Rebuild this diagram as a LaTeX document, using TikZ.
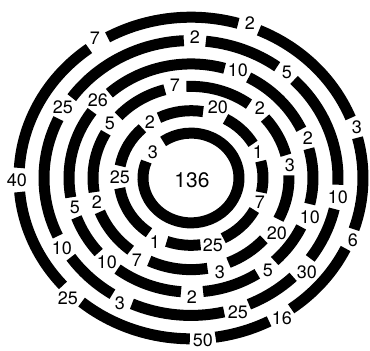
\documentclass[tikz,border=0pt]{standalone}
\usepackage{fontspec}
\setmainfont{TeX Gyre Heros}

\tikzset{
    ring/.style={line width=11pt},
    num/.style={font=\fontsize{18}{18}\selectfont, inner sep=0pt},
    total/.style={font=\fontsize{21}{21}\selectfont, inner sep=0pt},
}

\begin{document}
\begin{tikzpicture}[x=1pt,y=1pt]
                    \useasboundingbox (-191,-173) rectangle (179,178);

                    \foreach \r/\a/\b in {
                        172/21.9/66.7, 172/74.1/119.0, 172/126.4/176.4, 172/185.0/221.9,
                        172/230.5/269.6, 172/278.2/297.0, 172/305.6/334.0, 172/341.4/374.5,
                        147/-2.8/45.5, 147/54.1/84.2, 147/92.8/144.2, 147/154.4/205.0,
                        147/215.2/237.7, 147/246.3/283.0, 147/293.2/314.0, 147/324.2/347.0,
                        122/25.3/61.8, 122/74.0/132.0, 122/144.2/189.8, 122/200.2/220.8,
                        122/233.0/265.3, 122/275.7/302.9, 122/313.3/334.6, 122/346.8/374.9,
                        98/14.4/40.9, 98/53.7/92.7, 98/105.5/137.6, 98/150.4/188.9,
                        98/201.7/232.0, 98/244.8/279.7, 98/292.5/318.0, 98/333.2/361.6,
                        72/30.5/61.3, 72/80.3/116.4, 72/132.4/169.7, 72/188.7/234.3,
                        72/250.3/277.6, 72/296.6/331.6, 72/347.6/374.5,
                        48/158.5/485.5}
                        \draw[ring] ({\r*cos(\a)},{0.935*\r*sin(\a)})
                            arc[start angle=\a, end angle=\b, x radius=\r, y radius=0.935*\r];

                    \node[total] (sum) at (1,-2) {136};

                    \foreach \n/\x/\y/\t in {
                        f1/-96/140/7, f2/59/155/2, f3/166/51/3, f4/162/-62/6,
                        f5/91/-140/16, f6/12/-162/50, f7/-123/-120/25, f8/-174/-2/40,
                        e1/4/141/2, e2/96/106/5, e3/-128/71/25, e4/147/-19/10,
                        e5/116/-94/30, e6/47/-134/25, e7/-71/-125/3, e8/-129/-70/10,
                        d1/47/108/10, d2/-93/78/26, d3/117/40/2, d4/119/-39/10,
                        d5/77/-92/5, d6/1/-119/2, d7/-84/-84/10, d8/-116/-29/5,
                        c1/-16/93/7, c2/69/70/2, c3/-81/55/5, c4/99/13/3,
                        c5/86/-55/20, c6/29/-94/3, c7/-54/-82/7, c8/-94/-24/2,
                        b1/-41/56/2, b2/27/71/20, b3/67/26/1, b4/-71/1/25,
                        b5/69/-24/7, b6/22/-67/25, b7/-36/-64/1,
                        a1/-38/26/3}
                        \node[num] (\n) at (\x,\y) {\t};
\end{tikzpicture}
\end{document}
